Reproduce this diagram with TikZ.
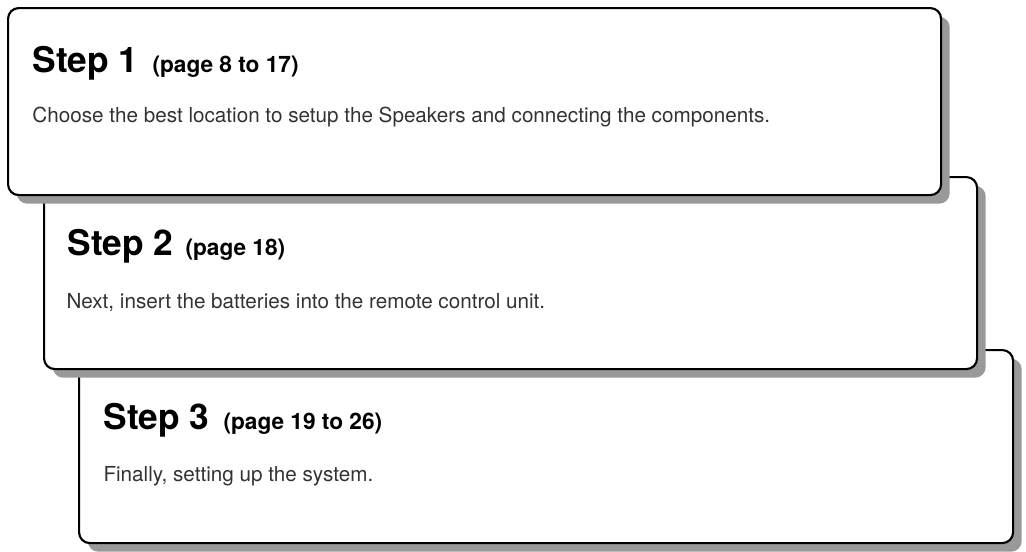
\documentclass[tikz,border=0pt]{standalone}
\usepackage{fontspec}
\setmainfont{TeX Gyre Heros}
\usetikzlibrary{shadows}

\tikzset{every picture/.style={line width=0.75pt}}
\tikzset{
  stepbox/.style={draw=black, line width=1.6pt, rounded corners=8pt, fill=white,
    inner sep=0pt, anchor=north west,
    drop shadow={shadow xshift=6.5pt, shadow yshift=-6.5pt, fill=black!40, opacity=1}},
  steptitle/.style={anchor=base west, inner sep=0pt, font=\fontsize{26.5}{30}\selectfont\bfseries},
  steppage/.style={anchor=base west, inner sep=0pt, font=\fontsize{17}{20}\selectfont\bfseries},
  steptext/.style={anchor=base west, inner sep=0pt, text=black!80, font=\fontsize{15.5}{18}\selectfont},
}

\begin{document}
\begin{tikzpicture}[x=0.75pt,y=0.75pt,yscale=-1,xscale=1]
%set diagram left start at 0, and has height of 551
\useasboundingbox (0,0) rectangle (1026,551);

%Shape: Step 3 box
\node [stepbox, minimum width=700.5pt, minimum height=144.75pt] (box3) at (78,349) {};
%Shape: Step 2 box
\node [stepbox, minimum width=699.75pt, minimum height=144pt] (box2) at (43,176) {};
%Shape: Step 1 box
\node [stepbox, minimum width=699.75pt, minimum height=140.25pt] (box1) at (7,7) {};

% Text Node
\node [steptitle] (title1) at (32,72.5) {Step 1};
% Text Node
\node [steppage] (page1) at (152,72.5) {(page 8 to 17)};
% Text Node
\node [steptext] (text1) at (32,122) {Choose the best location to setup the Speakers and connecting the components.};

% Text Node
\node [steptitle] (title2) at (67,255) {Step 2};
% Text Node
\node [steppage] (page2) at (185,255) {(page 18)};
% Text Node
\node [steptext] (text2) at (66,308) {Next, insert the batteries into the remote control unit.};

% Text Node
\node [steptitle] (title3) at (103,429) {Step 3};
% Text Node
\node [steppage] (page3) at (223,429) {(page 19 to 26)};
% Text Node
\node [steptext] (text3) at (103,481) {Finally, setting up the system.};

\end{tikzpicture}
\end{document}
